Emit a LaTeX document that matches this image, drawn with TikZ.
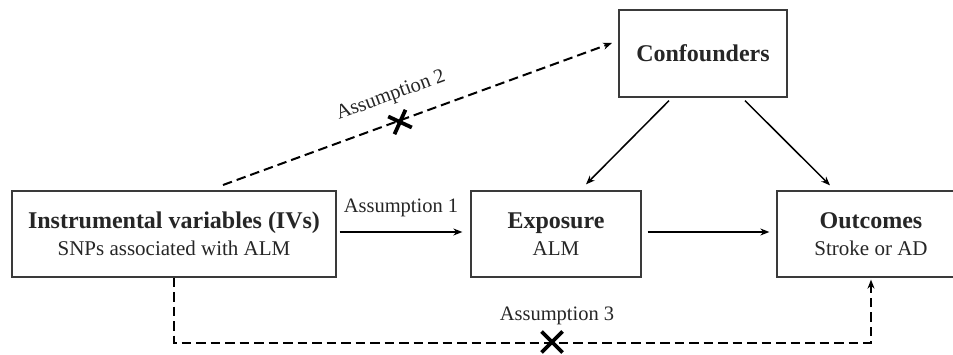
\documentclass[tikz,border=0pt]{standalone}
\usepackage{fontspec}
\setmainfont{Liberation Serif}
\usetikzlibrary{arrows.meta,calc}
\definecolor{ink}{HTML}{262626}
\definecolor{frame}{HTML}{3A3A3A}
\begin{document}
\begin{tikzpicture}[x=1pt,y=-1pt,
  box/.style={draw=frame,line width=1.3pt,rectangle,inner sep=0pt,align=center,
    text=ink,font=\fontsize{21}{27}\selectfont},
  head/.style={font=\bfseries\fontsize{24}{27}\selectfont},
  conn/.style={line width=1.5pt,-{Stealth[length=9pt,width=7pt]}},
  dashconn/.style={conn,line width=2pt,dash pattern=on 9.5pt off 5pt},
  lbl/.style={text=ink,font=\fontsize{20.5}{24}\selectfont,inner sep=0pt},
  cross/.style={line width=3.8pt}]
\clip (0,0) rectangle (953,355);
\fill[white] (0,0) rectangle (953,355);

% boxes
\node[box,minimum width=324pt,minimum height=86pt] (iv) at (174,234)
  {{\bfseries\fontsize{24}{27}\selectfont Instrumental variables (IVs)}\\SNPs associated with ALM};
\node[box,minimum width=170pt,minimum height=86pt] (exp) at (556,234)
  {{\bfseries\fontsize{24}{27}\selectfont Exposure}\\ALM};
\node[box,minimum width=188pt,minimum height=86pt] (out) at (871,234)
  {{\bfseries\fontsize{24}{27}\selectfont Outcomes}\\Stroke or AD};
\node[box,head,minimum width=168pt,minimum height=87pt] (conf) at (703,53.5) {Confounders};

% assumption 1: IVs -> exposure
\draw[conn] ($(iv.east)+(3,-2)$) -- ($(exp.west)+(-8,-2)$)
  node[lbl,midway,anchor=base,yshift=19pt] (a1) {Assumption 1};

% exposure -> outcomes
\draw[conn] ($(exp.east)+(6,-2)$) -- ($(out.west)+(-7,-2)$);

% confounders -> exposure / outcomes
\draw[conn] ($(conf.south)+(-34,3)$) -- ($(exp.north)+(30,-6)$);
\draw[conn] ($(conf.south)+(42,3)$) -- ($(out.north)+(-41,-5)$);

% assumption 2: IVs -/-> confounders
\coordinate (a2s) at (223,185);
\coordinate (a2e) at (612,43);
\draw[dashconn] (a2s) -- (a2e);
\node[lbl,rotate=20] (a2) at (391,96) {Assumption 2};
\coordinate (x2) at (400,122);
\draw[cross] ($(x2)+(-11.8,-5.5)$) -- ($(x2)+(11.8,5.5)$)
             ($(x2)+(-5.5,12.2)$) -- ($(x2)+(5.5,-12.2)$);

% assumption 3: IVs -/-> outcomes
\draw[dashconn] (iv.south) -- ++(0,65) -| ($(out.south)+(0,2)$);
\node[lbl,anchor=base] (a3) at (557,320) {Assumption 3};
\coordinate (x3) at (552,342);
\draw[cross] ($(x3)+(-10.5,-10.5)$) -- ($(x3)+(10.5,10.5)$)
             ($(x3)+(-10.5,10.5)$) -- ($(x3)+(10.5,-10.5)$);
\end{tikzpicture}
\end{document}
